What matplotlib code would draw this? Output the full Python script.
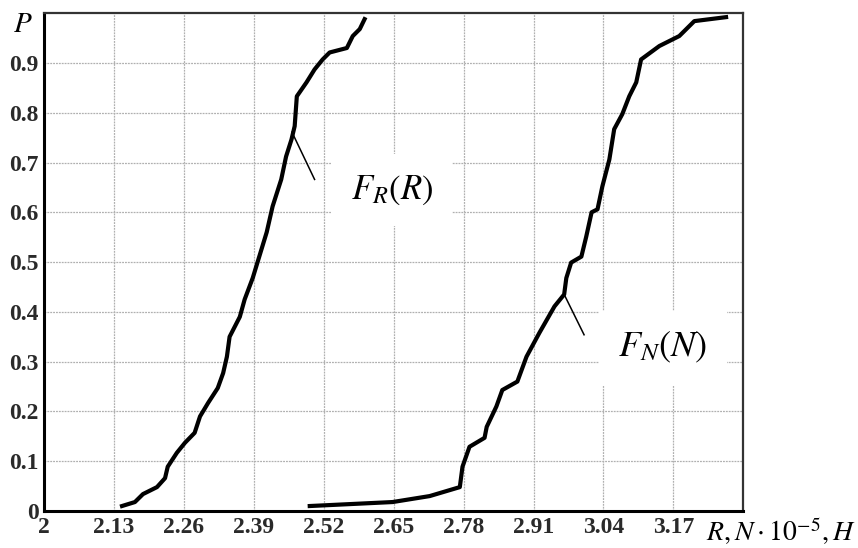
# Empirical distribution functions F_R(R) and F_N(N)
import numpy as np
from matplotlib import pyplot as plt

plt.rcParams['mathtext.fontset'] = 'stix'
plt.rcParams['font.family'] = ['Liberation Serif', 'DejaVu Serif']

# data
r_vals = [2.145, 2.169, 2.184, 2.21, 2.225, 2.23, 2.247, 2.262, 2.28, 2.29, 2.305,
          2.323, 2.333, 2.34, 2.345, 2.364, 2.373, 2.388, 2.414, 2.425, 2.441,
          2.45, 2.46, 2.466, 2.47, 2.488, 2.503, 2.518, 2.531, 2.563, 2.574,
          2.587, 2.596]
r_prob = [0.01, 0.018, 0.034, 0.048, 0.066, 0.089, 0.117, 0.137, 0.157, 0.19, 0.217,
          0.247, 0.277, 0.31, 0.35, 0.39, 0.425, 0.468, 0.56, 0.612, 0.666,
          0.712, 0.746, 0.773, 0.833, 0.861, 0.887, 0.907, 0.921, 0.93, 0.954,
          0.968, 0.988]

n_vals = [2.494, 2.648, 2.717, 2.773, 2.778, 2.791, 2.819, 2.823, 2.841, 2.852,
          2.88, 2.897, 2.921, 2.949, 2.967, 2.971, 2.98, 2.999, 3.008, 3.018,
          3.029, 3.038, 3.051, 3.06, 3.075, 3.088, 3.101, 3.11, 3.144, 3.181,
          3.209, 3.268]
n_prob = [0.01, 0.018, 0.03, 0.048, 0.089, 0.129, 0.147, 0.169, 0.21, 0.243,
          0.26, 0.31, 0.358, 0.411, 0.435, 0.468, 0.499, 0.511, 0.551, 0.6,
          0.606, 0.652, 0.706, 0.767, 0.797, 0.833, 0.861, 0.907, 0.934, 0.954,
          0.984, 0.992]

x_ticks = [2, 2.13, 2.26, 2.39, 2.52, 2.65, 2.78, 2.91, 3.04, 3.17]
x_labels = ['2', '2.13', '2.26', '2.39', '2.52', '2.65', '2.78', '2.91', '3.04', '3.17']
y_ticks = [0, 0.1, 0.2, 0.3, 0.4, 0.5, 0.6, 0.7, 0.8, 0.9]
y_labels = ['0', '0.1', '0.2', '0.3', '0.4', '0.5', '0.6', '0.7', '0.8', '0.9']

fig = plt.figure(figsize=(8.58, 5.48), dpi=100)
ax = fig.add_axes([0.0513, 0.0675, 0.815, 0.9085])
ax.set_xlim(2.0, 3.30)
ax.set_ylim(0.0, 1.0)

# grid
for xv in x_ticks[1:]:
    ax.axvline(xv, color='#b0b0b0', lw=0.9, ls=(0, (1.5, 0.8)), zorder=1)
for yv in y_ticks[1:]:
    ax.axhline(yv, color='#b0b0b0', lw=0.9, ls=(0, (1.5, 0.8)), zorder=1)

# curves
ax.plot(r_vals, r_prob, color='black', lw=3.0, zorder=3)
ax.plot(n_vals, n_prob, color='black', lw=3.0, zorder=3)

# leader lines and labels
ax.plot([2.461, 2.503], [0.761, 0.666], color='black', lw=1.1, zorder=4)
ax.plot([2.967, 3.004], [0.435, 0.354], color='black', lw=1.1, zorder=4)
box = dict(facecolor='white', edgecolor='none', pad=14)
ax.text(2.570, 0.645, r'$F_R(R)$', fontsize=25, va='center', ha='left',
        bbox=box, zorder=5)
ax.text(3.068, 0.328, r'$F_N(N)$', fontsize=26, va='center', ha='left',
        bbox=box, zorder=5)

# ticks
ax.set_xticks(x_ticks)
ax.set_xticklabels(x_labels, fontsize=17, fontweight='bold', color='#2a2a2a')
ax.set_yticks(y_ticks)
ax.set_yticklabels(y_labels, fontsize=17, fontweight='bold', color='#2a2a2a')
ax.tick_params(length=0, pad=4)

# axis names
ax.text(-0.031, 0.976, r'$P$', transform=ax.transAxes, fontsize=21,
        ha='center', va='center')
fig.text(0.997, 0.030, r'$R, N\cdot 10^{-5}, H$', fontsize=20, ha='right', va='center')

# frame
for side in ['left', 'bottom']:
    ax.spines[side].set_linewidth(2.2)
    ax.spines[side].set_color('black')
for side in ['top', 'right']:
    ax.spines[side].set_linewidth(1.6)
    ax.spines[side].set_color('#333333')

fig.savefig('out.png', dpi=100)
